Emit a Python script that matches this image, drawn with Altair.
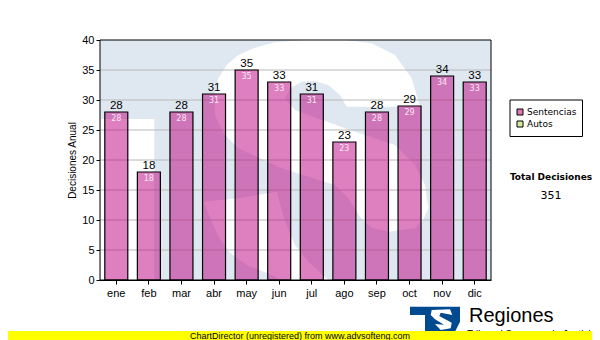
import altair as alt
import pandas as pd

meses = ["ene", "feb", "mar", "abr", "may", "jun", "jul", "ago", "sep", "oct", "nov", "dic"]
sentencias = [28, 18, 28, 31, 35, 33, 31, 23, 28, 29, 34, 33]
ticks_y = [0, 5, 10, 15, 20, 25, 30, 35, 40]

SANS = "Liberation Sans"
TAHOMA = "DejaVu Sans"
df = pd.DataFrame({"mes": meses, "valor": sentencias})
one = pd.DataFrame({"a": [0]})


def wm(points, closed=True):
    """decorative shape traced on the 3x crop of the plot, to plot pixels"""
    pts = [(x / 3 - 5, y / 3 - 5) for x, y in points]
    return "M" + " L".join(f"{x:.1f},{y:.1f}" for x, y in pts) + " Z"


def img(points):
    pts = [(400 + x / 3 - 100, 300 + y / 3 - 40) for x, y in points]
    return "M" + " L".join(f"{x:.1f},{y:.1f}" for x, y in pts) + " Z"


S_TOP = [(370, 130), (395, 90), (430, 60), (480, 38), (540, 22), (640, 14), (740, 14), (830, 25), (900, 60),
         (950, 130), (975, 215), (755, 215), (735, 180), (700, 150), (660, 138), (620, 140), (585, 160), (570, 190),
         (600, 225), (750, 280), (900, 330), (960, 390), (990, 450), (1000, 520), (985, 555), (960, 580), (880, 590),
         (830, 578), (795, 545), (760, 490), (720, 450), (560, 400), (430, 340), (385, 295), (360, 240), (358, 185)]
S_TAIL = [(325, 500), (340, 534), (370, 605), (405, 654), (455, 690), (516, 714), (560, 735), (700, 735),
          (640, 680), (600, 630), (570, 560), (545, 470), (430, 490)]
BLOCK = [(18, 252), (178, 252), (178, 735), (18, 735)]
LOGO = [(30, 20), (180, 20), (180, 65), (165, 95), (75, 95), (75, 45), (30, 45)]
LOGO_S = [(95, 30), (150, 28), (157, 45), (122, 38), (118, 48), (155, 68), (152, 85), (122, 90), (105, 72), (132, 74),
          (105, 58), (92, 45)]


def shape(path, colour):
    return alt.Chart(one).mark_point(shape=path, size=4, filled=True, fill=colour, opacity=1, strokeWidth=0).encode(
        x=alt.value(0), y=alt.value(0))


def px_text(text, x, y, size=10, font=SANS, weight="normal", align="left", colour="black"):
    return alt.Chart(one).mark_text(text=text, fontSize=size, font=font, fontWeight=weight, align=align,
                                    baseline="middle", color=colour).encode(x=alt.value(x), y=alt.value(y))


def px_rect(x, x2, y, y2, fill, stroke=None, width=1):
    kw = {"stroke": stroke, "strokeWidth": width} if stroke else {"strokeWidth": 0}
    return alt.Chart(one).mark_rect(fill=fill, **kw).encode(
        x=alt.value(x), x2=alt.value(x2), y=alt.value(y), y2=alt.value(y2))


x_enc = alt.X("mes:N", sort=meses, title=None,
              scale=alt.Scale(paddingInner=0, paddingOuter=0),
              axis=alt.Axis(labelAngle=0, labelFont=SANS, labelFontSize=11, labelColor="black", tickColor="black",
                            domainColor="black", tickSize=4, labelPadding=3, grid=False))
y_enc = alt.Y("valor:Q", title="Decisiones Anual", scale=alt.Scale(domain=[0, 40], nice=False),
              axis=alt.Axis(values=ticks_y, labelFont=SANS, labelFontSize=11, labelColor="black", tickColor="black",
                            domainColor="black", tickSize=4, labelPadding=2, grid=False, titleFont=SANS,
                            titleFontSize=10, titleFontWeight="normal", titleColor="black", titlePadding=4))

grid = alt.Chart(pd.DataFrame({"valor": ticks_y[1:-1]})).mark_rule(color="#b8b8b8", strokeWidth=1).encode(y=y_enc)
bars = alt.Chart(df).mark_bar(width=23, fill="#BE007F", fillOpacity=0.5, stroke="black", strokeWidth=1.2,
                              strokeOpacity=1).encode(x=x_enc, y=y_enc)
above = alt.Chart(df).mark_text(baseline="bottom", dy=-1, font=SANS, fontSize=11.5, color="black").encode(
    x=x_enc, y=y_enc, text="valor:Q")
inside = alt.Chart(df).mark_text(baseline="middle", dy=7, font=TAHOMA, fontSize=8, color="#fbe6f4").encode(
    x=x_enc, y=y_enc, text="valor:Q")

chart = alt.layer(
    grid.mark_rule(opacity=0),
    px_rect(0, 391, 0, 240, "#dfe8f1"),
    shape(wm(BLOCK), "white"),
    shape(wm(S_TOP), "white"),
    shape(wm(S_TAIL), "white"),
    grid, bars, above, inside,
    px_rect(0, 391, 0, 240, "transparent", "black"),
    px_rect(410, 482.5, 60, 96.5, "white", "black"),
    px_rect(417, 423, 69, 75, "#dc78b4", "black"),
    px_rect(417, 423, 81, 87, "#d6eaa0", "black"),
    px_text("Sentencias", 427, 72, 9, TAHOMA),
    px_text("Autos", 427, 84, 9, TAHOMA),
    px_text("Total Decisiones", 451, 137, 9, TAHOMA, "bold", "center"),
    px_text("351", 451, 156, 11, TAHOMA, "normal", "center"),
    shape(img(LOGO), "#004a8f"),
    shape(img(LOGO_S), "white"),
    px_text("Regiones", 369, 276, 20),
    px_text("Tribunal Supremo de Justicia", 367, 295, 10),
    px_rect(-92, 492, 291, 300, "#ffff00"),
    px_text("ChartDirector (unregistered) from www.advsofteng.com", 200, 295.5, 9, align="center"),
).resolve_scale(y="shared", x="shared").properties(
    width=391, height=240,
    padding={"left": 92, "top": 32, "right": 101, "bottom": 60},
    autosize=alt.AutoSizeParams(type="none"),
).configure_view(stroke=None)

chart.save("out.html", embed_options={"renderer": "svg", "actions": False})
